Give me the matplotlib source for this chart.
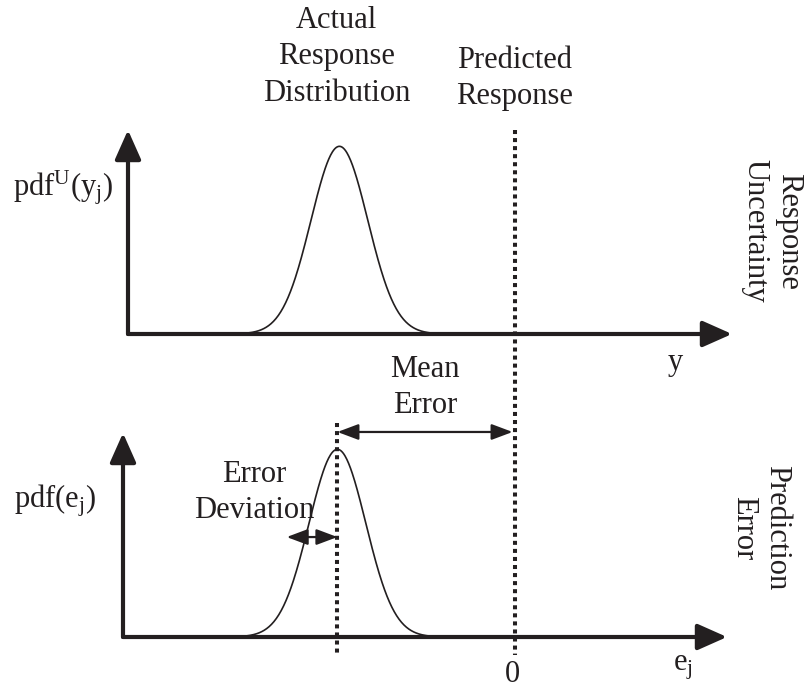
import numpy as np
import matplotlib.pyplot as plt

plt.rcParams['font.family'] = ['Liberation Serif', 'DejaVu Serif']
plt.rcParams['mathtext.fontset'] = 'custom'
plt.rcParams['mathtext.rm'] = 'Liberation Serif'
plt.rcParams['mathtext.it'] = 'Liberation Serif'

# response axis values
y_mean = 3.5        # centre of the actual response distribution
y_sigma = 0.47      # spread of the distribution
y_pred = 6.4        # predicted response
peak = 0.92         # height of the pdf bump
mean_err = y_mean - y_pred
dev_span = 0.84     # length of the "error deviation" marker

ink = '#231f20'
fs = 22
ls = 1.35

fig = plt.figure(figsize=(8.07, 6.88), dpi=100)
W, H = 807, 688

def add_panel(left, base, right, tip):
    ax = fig.add_axes([left / W, (H - base) / H, (right - left) / W, (base - tip) / H])
    ax.set_axis_off()
    return ax

top = add_panel(128, 334, 732, 130)
top.set_xlim(0, 10)
top.set_ylim(0, 1)

bot = add_panel(123, 637, 727, 433)
bot.set_xlim(-6.45, 3.55)
bot.set_ylim(0, 1)

axis_arrow = dict(arrowstyle='-|>,head_length=0.72,head_width=0.32', lw=3,
                  color=ink, mutation_scale=25, shrinkA=0, shrinkB=0)
dim_arrow = dict(arrowstyle='<|-|>,head_length=0.8,head_width=0.3', lw=1.6,
                 color=ink, mutation_scale=16, shrinkA=0, shrinkB=0)
dots = dict(color=ink, lw=2.9, linestyle=(0, (1, 1)), zorder=4)

def draw_axes(ax):
    x0, x1 = ax.get_xlim()
    ax.annotate('', xy=(x1, 0), xytext=(x0, 0), arrowprops=axis_arrow,
                annotation_clip=False)
    ax.annotate('', xy=(x0, 1), xytext=(x0, 0), arrowprops=axis_arrow,
                annotation_clip=False)

def bump(ax, mu):
    x = np.linspace(mu - 3.2 * y_sigma, mu + 3.2 * y_sigma, 300)
    ax.plot(x, peak * np.exp(-0.5 * ((x - mu) / y_sigma) ** 2),
            color=ink, lw=1.2, zorder=3)

# top panel: response uncertainty
draw_axes(top)
bump(top, y_mean)
top.text(y_mean - 0.05, 1.358, 'Actual\nResponse\nDistribution', ha='center',
         va='center', fontsize=fs, color=ink, linespacing=ls)
top.text(y_pred, 1.252, 'Predicted\nResponse', ha='center', va='center',
         fontsize=fs, color=ink, linespacing=ls)
top.text(-0.25, 0.681, r'pdf$^{\mathrm{U}}$(y$_{\mathrm{j}}$)', ha='right',
         va='baseline', fontsize=fs, color=ink)
top.text(10.66, 0.505, 'Response\nUncertainty', rotation=-90, ha='center',
         va='center', fontsize=fs, color=ink, linespacing=1.2)
top.text(9.06, -0.176, 'y', ha='center', va='baseline', fontsize=fs, color=ink)

# bottom panel: prediction error
draw_axes(bot)
bump(bot, mean_err)
bot.plot([mean_err, mean_err], [1.05, -0.088], clip_on=False, **dots)
bot.annotate('', xy=(0, 1.005), xytext=(mean_err, 1.005),
             arrowprops=dim_arrow, annotation_clip=False)
bot.text(mean_err / 2, 1.223, 'Mean\nError', ha='center', va='center',
         fontsize=fs, color=ink, linespacing=ls)
bot.annotate('', xy=(mean_err, 0.49), xytext=(mean_err - dev_span, 0.49),
             arrowprops=dim_arrow, annotation_clip=False)
bot.text(-4.27, 0.708, 'Error\nDeviation', ha='center', va='center',
         fontsize=fs, color=ink, linespacing=ls)
bot.text(-6.89, 0.637, r'pdf(e$_{\mathrm{j}}$)', ha='right', va='baseline',
         fontsize=fs, color=ink)
bot.text(4.1, 0.534, 'Prediction\nError', rotation=-90, ha='center',
         va='center', fontsize=fs, color=ink, linespacing=1.2)
bot.text(0, -0.22, '0', ha='center', va='baseline', fontsize=fs, color=ink)
bot.text(2.65, -0.162, r'e$_{\mathrm{j}}$', ha='left', va='baseline',
         fontsize=fs, color=ink)

# predicted response line running through both panels
low = top.transData.inverted().transform(bot.transData.transform((0, -0.088)))
top.plot([y_pred, y_pred], [1.0, low[1]], clip_on=False, **dots)

fig.savefig('out.png', dpi=100)
